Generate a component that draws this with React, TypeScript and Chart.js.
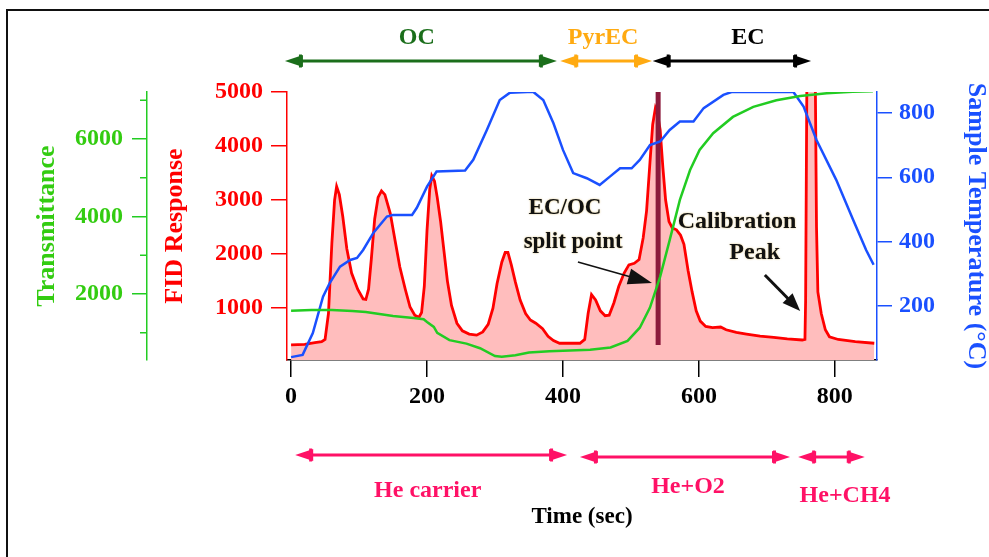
import React, { useEffect, useRef } from "react";
import { Chart, registerables } from "chart.js";

Chart.register(...registerables);

// ---------- DATA ----------
// FID response (red)
const fidTime = [0, 20, 35, 45, 50, 55, 60, 64, 67, 71, 76, 82, 89, 98, 106, 110, 114, 118, 123, 128, 133, 138, 146, 153, 160, 168, 175, 182, 188, 192, 196, 200, 204, 207, 211, 215, 220, 225, 230, 236, 244, 252, 262, 273, 282, 290, 297, 303, 310, 315, 319, 324, 330, 337, 345, 352, 360, 370, 378, 386, 395, 410, 425, 432, 437, 442, 448, 455, 462, 468, 475, 482, 490, 497, 505, 512, 518, 523, 528, 532, 536, 539, 543, 547, 551, 556, 561, 567, 573, 578, 584, 590, 596, 602, 610, 620, 632, 640, 655, 670, 690, 710, 730, 752, 756, 757, 759, 771, 773, 775, 780, 786, 792, 805, 830, 858];
const fidValue = [320, 330, 360, 380, 420, 900, 2200, 3000, 3250, 3100, 2700, 2100, 1650, 1350, 1170, 1160, 1350, 1900, 2650, 3050, 3170, 3100, 2750, 2250, 1760, 1350, 1020, 870, 830, 920, 1400, 2440, 3200, 3450, 3350, 3050, 2600, 2050, 1500, 1050, 720, 580, 520, 500, 560, 700, 1000, 1450, 1850, 2030, 2030, 1800, 1480, 1150, 900, 780, 720, 620, 480, 400, 350, 350, 350, 420, 900, 1250, 1150, 950, 860, 870, 1100, 1400, 1650, 1800, 1830, 1900, 2300, 2800, 3700, 4400, 4700, 4600, 4300, 3600, 3000, 2600, 2480, 2450, 2350, 2180, 1700, 1300, 950, 760, 660, 640, 650, 600, 550, 520, 480, 460, 430, 410, 420, 1150, 5600, 5600, 2500, 1300, 900, 600, 470, 420, 380, 350];

// Transmittance (green)
const transTime = [0, 30, 60, 90, 110, 150, 180, 195, 200, 210, 215, 233, 258, 278, 300, 310, 330, 350, 380, 410, 440, 470, 495, 513, 528, 543, 557, 572, 587, 601, 621, 650, 680, 714, 749, 788, 826, 856];
const transValue = [1570, 1590, 1590, 1560, 1535, 1430, 1380, 1350, 1280, 1150, 1000, 810, 720, 600, 400, 380, 420, 490, 520, 540, 560, 620, 790, 1130, 1650, 2450, 3390, 4430, 5200, 5720, 6150, 6570, 6830, 7000, 7110, 7180, 7220, 7230];

// Sample temperature (blue)
const tempTime = [0, 17, 32, 47, 57, 72, 87, 97, 106, 121, 141, 150, 178, 185, 200, 214, 256, 268, 288, 307, 322, 356, 371, 386, 400, 415, 435, 454, 469, 484, 501, 513, 528, 543, 557, 572, 592, 607, 636, 648, 739, 754, 773, 802, 827, 846, 857];
const tempValue = [41, 48, 116, 229, 272, 322, 343, 349, 374, 427, 478, 483, 483, 505, 571, 618, 621, 654, 747, 840, 863, 866, 840, 768, 685, 613, 597, 576, 602, 628, 628, 654, 700, 711, 747, 773, 773, 815, 856, 865, 865, 820, 716, 592, 467, 374, 328];

// Axis ticks
const timeTicks = [0, 200, 400, 600, 800];
const fidTicks = [1000, 2000, 3000, 4000, 5000];
const transTicks = [2000, 4000, 6000];
const transMinorTicks = [1000, 3000, 5000, 7000];
const tempTicks = [200, 400, 600, 800];

// Phase annotations (seconds)
const phaseLabels = ["OC", "PyrEC", "EC"];
const phaseStart = [-9, 396, 532];
const phaseEnd = [391, 531, 765];
const phaseLabelAt = [185, 459, 672];

const carrierLabels = ["He carrier", "He+O2", "He+CH4"];
const carrierStart = [6, 425, 746];
const carrierEnd = [406, 734, 844];
const carrierLabelAt = [201, 584, 815];

const splitTime = 540;

// ---------- STYLE ----------
const SERIF = '"Liberation Serif", "Times New Roman", serif';
const RED = "#ff0000";
const GREEN = "#22cc22";
const GREEN_TXT = "#33cc11";
const BLUE = "#1a50ff";
const PINK = "#ff1166";
const phaseColors = ["#1b6e1b", "#ffaa11", "#000000"];
const carrierYOff = [95, 97, 97];
const carrierTextYOff = [131, 127, 136];

function drawHead(ctx: CanvasRenderingContext2D, x: number, y: number, ang: number, len: number, half: number, color: string) {
  ctx.save();
  ctx.translate(x, y);
  ctx.rotate(ang);
  ctx.fillStyle = color;
  ctx.beginPath();
  ctx.moveTo(0, 0);
  ctx.lineTo(-len, -half);
  ctx.lineTo(-len, half);
  ctx.closePath();
  ctx.fill();
  ctx.restore();
}

function dblArrow(ctx: CanvasRenderingContext2D, x1: number, x2: number, y: number, color: string) {
  ctx.save();
  ctx.strokeStyle = color;
  ctx.lineWidth = 3;
  ctx.beginPath();
  ctx.moveTo(x1 + 8, y);
  ctx.lineTo(x2 - 8, y);
  ctx.stroke();
  drawHead(ctx, x1, y, Math.PI, 18, 6, color);
  drawHead(ctx, x2, y, 0, 18, 6, color);
  ctx.fillStyle = color;
  ctx.fillRect(x1 + 14, y - 6.5, 3, 13);
  ctx.fillRect(x2 - 17, y - 6.5, 3, 13);
  ctx.restore();
}

const annotPlugin = {
  id: "annot",
  beforeDraw(chart: any) {
    const ctx = chart.ctx as CanvasRenderingContext2D;
    ctx.save();
    ctx.fillStyle = "#ffffff";
    ctx.fillRect(0, 0, chart.width, chart.height);
    ctx.strokeStyle = "#111";
    ctx.lineWidth = 2;
    ctx.beginPath();
    ctx.moveTo(7, chart.height);
    ctx.lineTo(7, 10);
    ctx.lineTo(chart.width, 10);
    ctx.stroke();
    ctx.restore();
  },
  afterDatasetDraw(chart: any, args: any) {
    if (args.index !== 2) return;
    const ctx = chart.ctx as CanvasRenderingContext2D;
    const xs = chart.scales.x;
    const ys = chart.scales.yFID;
    const x = xs.getPixelForValue(splitTime);
    ctx.save();
    ctx.strokeStyle = "#8b1a3c";
    ctx.lineWidth = 5;
    ctx.beginPath();
    ctx.moveTo(x, chart.chartArea.top);
    ctx.lineTo(x, ys.getPixelForValue(318));
    ctx.stroke();
    ctx.restore();
  },
  afterDraw(chart: any) {
    const ctx = chart.ctx as CanvasRenderingContext2D;
    const xs = chart.scales.x;
    const yf = chart.scales.yFID;
    const yt = chart.scales.yTrans;
    const area = chart.chartArea;

    // minor ticks on transmittance axis
    ctx.save();
    ctx.strokeStyle = GREEN;
    ctx.lineWidth = 1.5;
    for (const v of transMinorTicks) {
      const y = yt.getPixelForValue(v);
      ctx.beginPath();
      ctx.moveTo(yt.right - 7, y);
      ctx.lineTo(yt.right, y);
      ctx.stroke();
    }
    ctx.restore();

    ctx.save();
    ctx.textAlign = "center";
    ctx.textBaseline = "middle";
    // phase arrows (top)
    for (let i = 0; i < phaseLabels.length; i++) {
      const x1 = xs.getPixelForValue(phaseStart[i]);
      const x2 = xs.getPixelForValue(phaseEnd[i]);
      dblArrow(ctx, x1, x2, area.top - 31, phaseColors[i]);
      ctx.fillStyle = phaseColors[i];
      ctx.font = `bold 24px ${SERIF}`;
      ctx.fillText(phaseLabels[i], xs.getPixelForValue(phaseLabelAt[i]), area.top - 54);
    }
    // carrier arrows (bottom)
    for (let i = 0; i < carrierLabels.length; i++) {
      const x1 = xs.getPixelForValue(carrierStart[i]);
      const x2 = xs.getPixelForValue(carrierEnd[i]);
      dblArrow(ctx, x1, x2, area.bottom + carrierYOff[i], PINK);
      ctx.fillStyle = PINK;
      ctx.font = `bold 24px ${SERIF}`;
      ctx.fillText(carrierLabels[i], xs.getPixelForValue(carrierLabelAt[i]), area.bottom + carrierTextYOff[i]);
    }

    // in-plot annotations
    ctx.fillStyle = "#111";
    ctx.shadowColor = "rgba(190,140,0,0.55)";
    ctx.shadowBlur = 2;
    ctx.font = `bold 23px ${SERIF}`;
    ctx.fillText("EC/OC", xs.getPixelForValue(403), yf.getPixelForValue(2853));
    ctx.fillText("split point", xs.getPixelForValue(415), yf.getPixelForValue(2224));
    ctx.font = `bold 24px ${SERIF}`;
    ctx.fillText("Calibration", xs.getPixelForValue(656), yf.getPixelForValue(2594));
    ctx.fillText("Peak", xs.getPixelForValue(682), yf.getPixelForValue(2020));
    ctx.shadowBlur = 0;
    ctx.shadowColor = "transparent";

    // split arrow
    const sx1 = xs.getPixelForValue(422), sy1 = yf.getPixelForValue(1854);
    const sx2 = xs.getPixelForValue(531), sy2 = yf.getPixelForValue(1465);
    const a1 = Math.atan2(sy2 - sy1, sx2 - sx1);
    ctx.strokeStyle = "#111";
    ctx.lineWidth = 1.5;
    ctx.beginPath();
    ctx.moveTo(sx1, sy1);
    ctx.lineTo(sx2 - 20 * Math.cos(a1), sy2 - 20 * Math.sin(a1));
    ctx.stroke();
    drawHead(ctx, sx2, sy2, a1, 24, 8, "#111");

    // calibration arrow
    const cx1 = xs.getPixelForValue(697), cy1 = yf.getPixelForValue(1613);
    const cx2 = xs.getPixelForValue(749), cy2 = yf.getPixelForValue(947);
    const a2 = Math.atan2(cy2 - cy1, cx2 - cx1);
    ctx.lineWidth = 3;
    ctx.beginPath();
    ctx.moveTo(cx1, cy1);
    ctx.lineTo(cx2 - 15 * Math.cos(a2), cy2 - 15 * Math.sin(a2));
    ctx.stroke();
    drawHead(ctx, cx2, cy2, a2, 18, 7, "#111");
    ctx.restore();
  },
};

function pts(t: number[], v: number[]) {
  return t.map((x, i) => ({ x, y: v[i] }));
}

export default function App() {
  const ref = useRef<HTMLCanvasElement>(null);

  useEffect(() => {
    if (!ref.current) return;
    const tickFont = { family: SERIF, size: 24, weight: "bold" as const };
    const titleFont = { family: SERIF, size: 26, weight: "bold" as const, lineHeight: 1 };
    const chart = new Chart(ref.current, {
      type: "line",
      data: {
        datasets: [
          {
            label: "Transmittance",
            data: pts(transTime, transValue),
            yAxisID: "yTrans",
            borderColor: GREEN,
            borderWidth: 2.5,
            pointRadius: 0,
            fill: false,
            order: 0,
          },
          {
            label: "Sample Temperature",
            data: pts(tempTime, tempValue),
            yAxisID: "yTemp",
            borderColor: BLUE,
            borderWidth: 2.5,
            pointRadius: 0,
            fill: false,
            order: 1,
          },
          {
            label: "FID Response",
            data: pts(fidTime, fidValue),
            yAxisID: "yFID",
            borderColor: RED,
            backgroundColor: "#ffbdbd",
            borderWidth: 2.8,
            pointRadius: 0,
            fill: "start",
            order: 2,
          },
        ],
      },
      options: {
        responsive: false,
        animation: false,
        devicePixelRatio: 1,
        layout: { padding: { left: 8, right: 0, top: 92, bottom: 0 } },
        plugins: { legend: { display: false }, tooltip: { enabled: false } },
        elements: { line: { tension: 0 } },
        scales: {
          x: {
            type: "linear",
            position: "bottom",
            min: -6,
            max: 862,
            afterFit: (s: any) => { s.height = 197; },
            afterBuildTicks: (s: any) => { s.ticks = timeTicks.map((v) => ({ value: v })); },
            ticks: { font: tickFont, color: "#000", padding: 5, autoSkip: false, maxRotation: 0, callback: (v: any) => String(v) },
            grid: { drawOnChartArea: false, drawTicks: true, tickLength: 17, color: "#000", lineWidth: 1.5 },
            border: { color: "#000", width: 1.5 },
            title: { display: true, text: "Time (sec)", color: "#000", font: { family: SERIF, size: 23, weight: "bold", lineHeight: 1 }, padding: { top: 0, bottom: 28 } },
          },
          yFID: {
            type: "linear",
            position: "left",
            weight: 1,
            min: 40,
            max: 5000,
            afterFit: (s: any) => { s.width = 140; },
            afterBuildTicks: (s: any) => { s.ticks = fidTicks.map((v) => ({ value: v })); },
            ticks: { font: tickFont, color: RED, padding: 8, autoSkip: false, callback: (v: any) => String(v) },
            grid: { drawOnChartArea: false, drawTicks: true, tickLength: 16, color: RED, lineWidth: 1.5 },
            border: { color: RED, width: 1.5 },
            title: { display: true, text: "FID Response", color: RED, font: titleFont, padding: { top: 15, bottom: 0 } },
          },
          yTrans: {
            type: "linear",
            position: "left",
            weight: 2,
            min: 297,
            max: 7213,
            afterFit: (s: any) => { s.width = 139; },
            afterBuildTicks: (s: any) => { s.ticks = transTicks.map((v) => ({ value: v })); },
            ticks: { font: tickFont, color: GREEN_TXT, padding: 9, autoSkip: false, callback: (v: any) => String(v) },
            grid: { drawOnChartArea: false, drawTicks: true, tickLength: 15, color: GREEN, lineWidth: 1.5 },
            border: { color: GREEN, width: 1.5 },
            title: { display: true, text: "Transmittance", color: GREEN_TXT, font: titleFont, padding: { top: 26, bottom: 0 } },
          },
          yTemp: {
            type: "linear",
            position: "right",
            min: 32,
            max: 865,
            afterFit: (s: any) => { s.width = 112; },
            afterBuildTicks: (s: any) => { s.ticks = tempTicks.map((v) => ({ value: v })); },
            ticks: { font: tickFont, color: BLUE, padding: 7, autoSkip: false, callback: (v: any) => String(v) },
            grid: { drawOnChartArea: false, drawTicks: true, tickLength: 15, color: BLUE, lineWidth: 1.5 },
            border: { color: BLUE, width: 1.5 },
            title: { display: true, text: "Sample Temperature (°C)", color: BLUE, font: titleFont, padding: { top: 0, bottom: 0 } },
          },
        },
      },
      plugins: [annotPlugin],
    } as any);
    return () => chart.destroy();
  }, []);

  return (
    <div style={{ position: "absolute", left: 0, top: 0, width: 989, height: 557, background: "#fff" }}>
      <canvas ref={ref} width={989} height={557} style={{ display: "block", width: 989, height: 557 }} />
    </div>
  );
}
